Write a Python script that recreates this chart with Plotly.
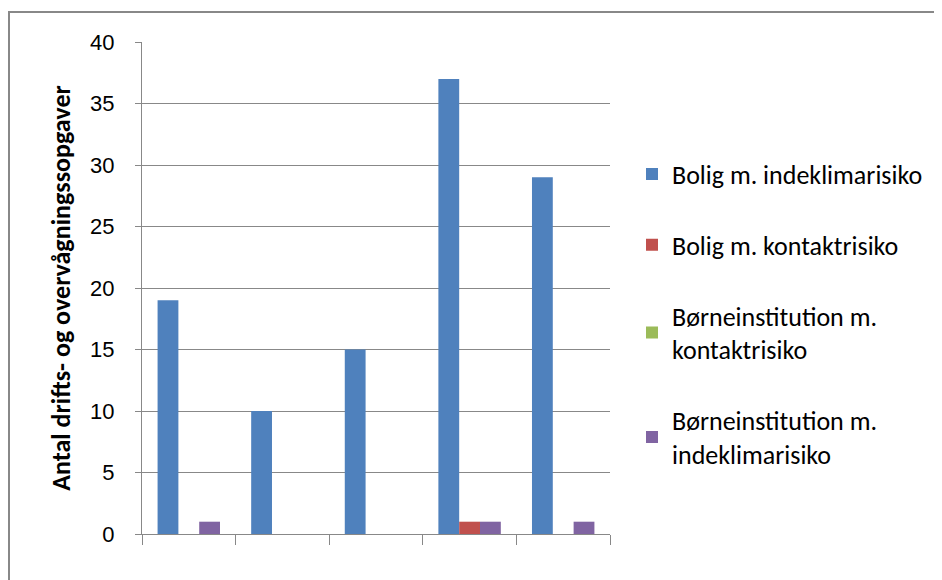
import plotly.graph_objects as go

categories = ["", "", "", "", ""]
series_names = ["Bolig m. indeklimarisiko", "Bolig m. kontaktrisiko",
                "Børneinstitution m.<br>kontaktrisiko", "Børneinstitution m.<br>indeklimarisiko"]
bolig_indeklima = [19, 10, 15, 37, 29]
bolig_kontakt = [0, 0, 0, 1, 0]
boern_kontakt = [0, 0, 0, 0, 0]
boern_indeklima = [1, 0, 0, 1, 1]
colors = ["#4F81BD", "#C0504D", "#9BBB59", "#8064A2"]
y_ticks = [0, 5, 10, 15, 20, 25, 30, 35, 40]

x = list(range(len(categories)))
values = [bolig_indeklima, bolig_kontakt, boern_kontakt, boern_indeklima]
groups = ["a", "b", "b", "c"]

fig = go.Figure()
for name, vals, col, g in zip(series_names, values, colors, groups):
    fig.add_trace(go.Bar(x=x, y=vals, name=name, marker=dict(color=col, line=dict(width=0)),
                         offsetgroup=g, legendgroup=name))

OFF = 8  # default page body margin
L, R, T, B = 142 - OFF, 610 - OFF, 42 - OFF, 534 - OFF
W, H = 942 - OFF, 580 - OFF
fig.update_layout(
    width=W, height=H,
    margin=dict(l=L, r=W - R, t=T, b=H - B, pad=0),
    paper_bgcolor="white", plot_bgcolor="white",
    barmode="group", bargap=0.333, bargroupgap=0,
    font=dict(family="Carlito, Lato, 'Open Sans', sans-serif", color="black"),
    legend=dict(x=(632 - OFF - L) / (R - L), y=(B - (314 - OFF)) / (B - T),
                xanchor="left", yanchor="middle",
                font=dict(size=26, family="Carlito, Lato, sans-serif"),
                tracegroupgap=34, itemwidth=30, bgcolor="rgba(0,0,0,0)"),
    showlegend=True,
)
fig.update_xaxes(range=[-0.5, 4.5], tickmode="array",
                 tickvals=[i - 0.5 for i in range(len(categories) + 1)],
                 ticktext=["" for _ in range(len(categories) + 1)],
                 ticks="outside", ticklen=10, tickcolor="#888888", tickwidth=1,
                 showline=True, linecolor="#888888", linewidth=1,
                 showgrid=False, zeroline=False)
fig.update_yaxes(range=[0, 40], tickmode="array", tickvals=y_ticks,
                 ticks="outside", ticklen=6, tickcolor="#888888",
                 showline=True, linecolor="#888888", linewidth=1,
                 showgrid=True, gridcolor="#888888", gridwidth=1, zeroline=False,
                 ticklabelstandoff=16,
                 tickfont=dict(size=22, family="'Liberation Sans Narrow', 'Arial Narrow', sans-serif"),
                 title=dict(text="<b>Antal drifts- og overvågningssopgaver</b>",
                            font=dict(size=26, family="Carlito, Lato, sans-serif"), standoff=12))
fig.add_shape(type="rect", xref="paper", yref="paper",
              x0=(9 - OFF - L) / (R - L), x1=(960 - OFF - L) / (R - L),
              y0=(B - (600 - OFF)) / (B - T), y1=(B - (12 - OFF)) / (B - T),
              line=dict(color="#888888", width=2), fillcolor="rgba(0,0,0,0)", layer="below")
fig.write_html("out.html")
